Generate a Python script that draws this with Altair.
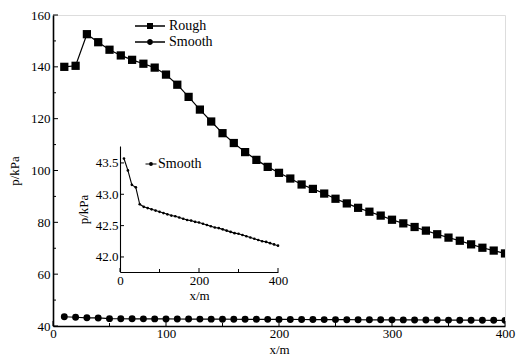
import altair as alt
import pandas as pd

# ---------------- data ----------------
x_m = [10, 20, 30, 40, 50, 60, 70, 80, 90, 100,
       110, 120, 130, 140, 150, 160, 170, 180, 190, 200,
       210, 220, 230, 240, 250, 260, 270, 280, 290, 300,
       310, 320, 330, 340, 350, 360, 370, 380, 390, 400]
rough_kpa = [140.0, 140.4, 152.6, 149.5, 146.6, 144.4, 142.7, 141.2, 139.7, 137.0,
             133.1, 128.4, 123.5, 118.9, 114.4, 110.6, 107.1, 104.1, 101.4, 99.1,
             96.9, 94.6, 92.9, 91.1, 89.1, 87.3, 85.6, 84.1, 82.6, 81.0,
             79.6, 78.2, 76.8, 75.4, 74.1, 72.9, 71.5, 70.2, 69.1, 68.0]
smooth_kpa = [43.57, 43.38, 43.15, 43.11, 42.84, 42.80, 42.78, 42.76, 42.74, 42.72,
              42.70, 42.68, 42.66, 42.65, 42.63, 42.61, 42.59, 42.58, 42.56, 42.55,
              42.53, 42.51, 42.49, 42.47, 42.46, 42.44, 42.42, 42.40, 42.38, 42.37,
              42.35, 42.33, 42.31, 42.29, 42.27, 42.25, 42.24, 42.22, 42.20, 42.18]
series_names = ["Rough", "Smooth"]

main_x_major = [0, 100, 200, 300, 400]
main_x_minor = [50, 150, 250, 350]
main_y_major = [40, 60, 80, 100, 120, 140, 160]
main_y_minor = [50, 70, 90, 110, 130, 150]
inset_x_major = [0, 200, 400]
inset_x_minor = [100, 300]
inset_y_major = [42.0, 42.5, 43.0, 43.5]

# ---------------- layout / style ----------------
W, H = 452, 311
FONT = "Liberation Serif"
FS = 13
IN_BOTTOM, IN_TOP, IN_LEFT, IN_RIGHT = 257, 131, 67, 225

rough_df = pd.DataFrame({"x": x_m, "p": rough_kpa, "series": "Rough"})
smooth_df = pd.DataFrame({"x": x_m, "p": smooth_kpa, "series": "Smooth"})
both_df = pd.concat([rough_df, smooth_df], ignore_index=True)

xs_main = alt.Scale(domain=[0, 400], nice=False, zero=False)
ys_main = alt.Scale(domain=[40, 160], nice=False, zero=False)
xs_in = alt.Scale(domain=[0, 400], range=[IN_LEFT, IN_RIGHT], nice=False, zero=False)
ys_in = alt.Scale(domain=[41.76, 43.77], range=[IN_BOTTOM, IN_TOP], nice=False, zero=False)

axis_common = dict(grid=False, ticks=False, domainColor="black",
                   labelFont=FONT, labelFontSize=FS, labelColor="black",
                   titleFont=FONT, titleFontSize=FS, titleColor="black",
                   titleFontWeight="normal", labelFlush=False)

main_x_axis = alt.Axis(orient="bottom", values=main_x_major, title="x/m",
                       domainWidth=1.6, labelPadding=1, titleY=27,
                       titleBaseline="alphabetic", **axis_common)
main_y_axis = alt.Axis(orient="left", values=main_y_major, title="p/kPa",
                       domainWidth=1.6, labelPadding=3, titlePadding=9, **axis_common)

in_x_axis = alt.Axis(orient="bottom", values=inset_x_major, title="x/m",
                     offset=-(H - IN_BOTTOM), domainWidth=1.1, labelPadding=2,
                     titlePadding=2, **axis_common)
in_y_axis = alt.Axis(orient="left", values=inset_y_major, format=".1f", title="p/kPa",
                     offset=-IN_LEFT, domainWidth=1.1, labelPadding=2, titlePadding=5,
                     **axis_common)

# legend symbol paths (line through a marker); unit = half of sqrt(symbolSize)
rough_path = ("M-2.5,-0.11H-0.5V0.11H-2.5Z M0.5,-0.11H2.5V0.11H0.5Z "
              "M-0.5,-0.5H0.5V0.5H-0.5Z")
smooth_path = ("M-2.5,-0.11H-0.5V0.11H-2.5Z M0.5,-0.11H2.5V0.11H0.5Z "
               "M-0.5,0A0.5,0.5 0 1,0 0.5,0A0.5,0.5 0 1,0 -0.5,0Z")
inset_path = ("M-1,-0.09H-0.36V0.09H-1Z M0.36,-0.09H1V0.09H0.36Z "
              "M-0.36,0A0.36,0.36 0 1,0 0.36,0A0.36,0.36 0 1,0 -0.36,0Z")

# ---------------- main panel ----------------
rough_line = alt.Chart(rough_df).mark_line(color="black", strokeWidth=1.2, clip=True).encode(
    x=alt.X("x:Q", scale=xs_main, axis=main_x_axis),
    y=alt.Y("p:Q", scale=ys_main, axis=main_y_axis),
)
rough_pts = alt.Chart(rough_df).mark_point(shape="square", filled=True, color="black",
                                          opacity=1, size=68, clip=True).encode(
    x=alt.X("x:Q", scale=xs_main), y=alt.Y("p:Q", scale=ys_main))
smooth_line = alt.Chart(smooth_df).mark_line(color="black", strokeWidth=1.2, clip=True).encode(
    x=alt.X("x:Q", scale=xs_main), y=alt.Y("p:Q", scale=ys_main))
smooth_pts = alt.Chart(smooth_df).mark_point(shape="circle", filled=True, color="black",
                                            opacity=1, size=48, clip=True).encode(
    x=alt.X("x:Q", scale=xs_main), y=alt.Y("p:Q", scale=ys_main))

main_legend = alt.Chart(both_df).transform_filter("datum.x < 0").mark_point(
    filled=True, color="black", opacity=1).encode(
    x=alt.X("x:Q", scale=xs_main), y=alt.Y("p:Q", scale=ys_main),
    shape=alt.Shape("series:N",
                    scale=alt.Scale(domain=series_names, range=[rough_path, smooth_path]),
                    legend=alt.Legend(title=None, orient="none", legendX=90, legendY=4,
                                      symbolSize=144, symbolFillColor="black",
                                      symbolStrokeWidth=0, labelFont=FONT,
                                      labelFontSize=14, labelColor="black",
                                      labelOffset=12, padding=0, rowPadding=2)),
)

xt_major = alt.Chart(pd.DataFrame({"t": main_x_major})).mark_rule(color="black", strokeWidth=1).encode(
    x=alt.X("t:Q", scale=xs_main), y=alt.value(H), y2=alt.value(H - 5))
xt_minor = alt.Chart(pd.DataFrame({"t": main_x_minor})).mark_rule(color="black", strokeWidth=1).encode(
    x=alt.X("t:Q", scale=xs_main), y=alt.value(H), y2=alt.value(H - 3))
yt_major = alt.Chart(pd.DataFrame({"t": main_y_major})).mark_rule(color="black", strokeWidth=1).encode(
    y=alt.Y("t:Q", scale=ys_main), x=alt.value(0), x2=alt.value(5))
yt_minor = alt.Chart(pd.DataFrame({"t": main_y_minor})).mark_rule(color="black", strokeWidth=1).encode(
    y=alt.Y("t:Q", scale=ys_main), x=alt.value(0), x2=alt.value(3))

main = alt.layer(rough_line, rough_pts, smooth_line, smooth_pts, main_legend,
                 xt_major, xt_minor, yt_major, yt_minor)

# ---------------- inset panel ----------------
in_line = alt.Chart(smooth_df).mark_line(color="black", strokeWidth=1.1).encode(
    x=alt.X("x:Q", scale=xs_in, axis=in_x_axis),
    y=alt.Y("p:Q", scale=ys_in, axis=in_y_axis),
)
in_pts = alt.Chart(smooth_df).mark_point(shape="circle", filled=True, color="black",
                                        opacity=1, size=7).encode(
    x=alt.X("x:Q", scale=xs_in), y=alt.Y("p:Q", scale=ys_in))
in_legend = alt.Chart(smooth_df).transform_filter("datum.x < 0").mark_point(
    filled=True, opacity=1).encode(
    x=alt.X("x:Q", scale=xs_in), y=alt.Y("p:Q", scale=ys_in),
    color=alt.Color("series:N", scale=alt.Scale(domain=["Smooth"], range=["black"]),
                    legend=alt.Legend(title=None, orient="none", legendX=91, legendY=142,
                                      symbolType=inset_path, symbolSize=121,
                                      symbolFillColor="black", symbolStrokeWidth=0,
                                      labelFont=FONT, labelFontSize=14,
                                      labelColor="black", labelOffset=0, padding=0)),
)
ixt_major = alt.Chart(pd.DataFrame({"t": inset_x_major})).mark_rule(color="black", strokeWidth=1).encode(
    x=alt.X("t:Q", scale=xs_in), y=alt.value(IN_BOTTOM), y2=alt.value(IN_BOTTOM - 4))
ixt_minor = alt.Chart(pd.DataFrame({"t": inset_x_minor})).mark_rule(color="black", strokeWidth=1).encode(
    x=alt.X("t:Q", scale=xs_in), y=alt.value(IN_BOTTOM), y2=alt.value(IN_BOTTOM - 3))
iyt_major = alt.Chart(pd.DataFrame({"t": inset_y_major})).mark_rule(color="black", strokeWidth=1).encode(
    y=alt.Y("t:Q", scale=ys_in), x=alt.value(IN_LEFT), x2=alt.value(IN_LEFT + 4))

inset = alt.layer(in_line, in_pts, in_legend, ixt_major, ixt_minor, iyt_major)

chart = alt.layer(main, inset).resolve_scale(
    x="independent", y="independent"
).properties(
    width=W, height=H,
    autosize=alt.AutoSizeParams(type="none"),
    padding={"left": 45, "top": 7, "right": 11, "bottom": 30},
).configure_view(stroke=None).configure(background="white")

chart.save("out.html", embed_options={"renderer": "svg", "actions": False})
